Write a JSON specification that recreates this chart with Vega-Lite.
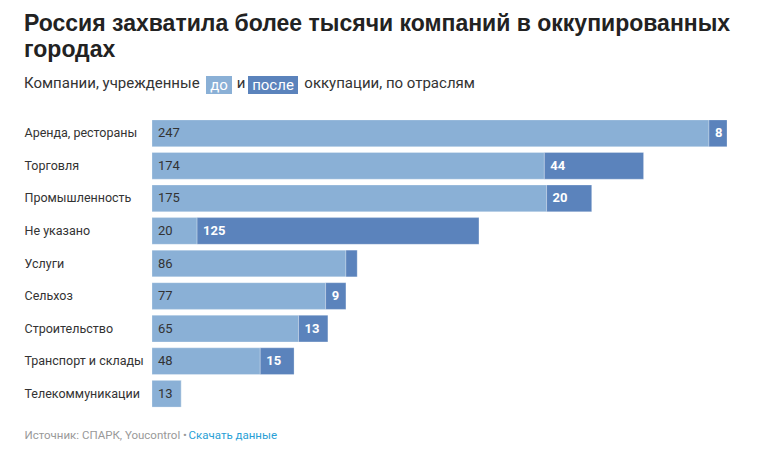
{
  "$schema": "https://vega.github.io/schema/vega-lite/v6.json",
  "width": 764,
  "height": 451,
  "autosize": {"type": "fit", "contains": "padding"},
  "padding": {"left": 24, "right": 36, "top": 13, "bottom": 10},
  "background": "white",
  "title": {
    "text": ["Россия захватила более тысячи компаний в оккупированных", "городах"],
    "subtitle": "Компании, учрежденные\u00a0\u00a0\u00a0\u00a0\u00a0\u00a0\u00a0\u00a0\u00a0\u00a0и\u00a0\u00a0\u00a0\u00a0\u00a0\u00a0\u00a0\u00a0\u00a0\u00a0\u00a0\u00a0\u00a0\u00a0\u00a0\u2009оккупации, по отраслям",
    "anchor": "start",
    "frame": "bounds",
    "font": "Liberation Sans",
    "fontSize": 23,
    "fontWeight": "bold",
    "color": "#222222",
    "lineHeight": 26,
    "subtitleFont": "Roboto",
    "subtitleFontSize": 15,
    "subtitleColor": "#333333",
    "subtitlePadding": 14,
    "offset": 26
  },
  "data": {
    "values": [
      {"cat": "Аренда, рестораны", "before": 247, "after": 8, "total": 255, "afterLabel": "8"},
      {"cat": "Торговля", "before": 174, "after": 44, "total": 218, "afterLabel": "44"},
      {"cat": "Промышленность", "before": 175, "after": 20, "total": 195, "afterLabel": "20"},
      {"cat": "Не указано", "before": 20, "after": 125, "total": 145, "afterLabel": "125"},
      {"cat": "Услуги", "before": 86, "after": 5, "total": 91, "afterLabel": null},
      {"cat": "Сельхоз", "before": 77, "after": 9, "total": 86, "afterLabel": "9"},
      {"cat": "Строительство", "before": 65, "after": 13, "total": 78, "afterLabel": "13"},
      {"cat": "Транспорт и склады", "before": 48, "after": 15, "total": 63, "afterLabel": "15"},
      {"cat": "Телекоммуникации", "before": 13, "after": 0, "total": 13, "afterLabel": null}
    ]
  },
  "encoding": {
    "y": {
      "field": "cat",
      "type": "nominal",
      "sort": null,
      "title": null,
      "scale": {"paddingInner": 0.18, "paddingOuter": 0.09},
      "axis": {
        "labelAlign": "left",
        "labelPadding": 128,
        "ticks": false,
        "domain": false,
        "labelFontSize": 12.5,
        "labelColor": "#333333",
        "labelFont": "Roboto",
        "labelLimit": 200
      }
    }
  },
  "layer": [
    {
      "mark": {"type": "bar", "stroke": "white", "strokeWidth": 1, "strokeOpacity": 0.25},
      "encoding": {
        "x": {
          "field": "before",
          "type": "quantitative",
          "scale": {"domain": [0, 255], "nice": false},
          "axis": {
            "orient": "bottom",
            "domain": false,
            "ticks": false,
            "labels": false,
            "grid": false,
            "title": "Источник: СПАРК, Youcontrol •",
            "titleAnchor": "start",
            "titleAlign": "left",
            "titleX": -128,
            "titleFontSize": 11.5,
            "titleFontWeight": "normal",
            "titleColor": "#999999",
            "titleFont": "Roboto",
            "titlePadding": 19.5
          }
        },
        "color": {
          "datum": "до",
          "scale": {"range": ["#8ab0d6"]},
          "legend": {
            "orient": "none",
            "legendX": 54,
            "legendY": -45,
            "title": null,
            "symbolType": "M-1,-0.692H1V0.692H-1Z",
            "symbolSize": 676,
            "symbolStrokeWidth": 0,
            "symbolOpacity": 1,
            "labelColor": "white",
            "labelFontSize": 15,
            "labelFont": "Roboto",
            "labelAlign": "center",
            "labelOffset": -13,
            "padding": 0
          }
        }
      }
    },
    {
      "mark": {"type": "bar", "stroke": "white", "strokeWidth": 1, "strokeOpacity": 0.25},
      "encoding": {
        "x": {
          "field": "before",
          "type": "quantitative",
          "axis": {
            "orient": "bottom",
            "domain": false,
            "ticks": false,
            "labels": false,
            "grid": false,
            "title": "Скачать данные",
            "titleAnchor": "start",
            "titleAlign": "left",
            "titleX": 36,
            "titleFontSize": 11.5,
            "titleFontWeight": "normal",
            "titleColor": "#2a9fd6",
            "titleFont": "Roboto",
            "titlePadding": 19.5
          }
        },
        "x2": {"field": "total"},
        "color": {
          "datum": "после",
          "scale": {"range": ["#5b83bc"]},
          "legend": {
            "orient": "none",
            "legendX": 96,
            "legendY": -57,
            "title": null,
            "symbolType": "M-1,-0.36H1V0.36H-1Z",
            "symbolSize": 2500,
            "symbolStrokeWidth": 0,
            "symbolOpacity": 1,
            "labelColor": "white",
            "labelFontSize": 15,
            "labelFont": "Roboto",
            "labelAlign": "center",
            "labelOffset": -25,
            "padding": 0
          }
        }
      }
    },
    {
      "mark": {"type": "text", "align": "left", "baseline": "middle", "dx": 6, "fontSize": 13, "font": "Roboto", "color": "#333333"},
      "encoding": {
        "x": {"datum": 0, "type": "quantitative", "axis": null},
        "text": {"field": "before", "type": "quantitative"}
      }
    },
    {
      "transform": [{"filter": "isValid(datum.afterLabel)"}],
      "mark": {"type": "text", "align": "left", "baseline": "middle", "dx": 6, "fontSize": 13, "font": "Roboto", "fontWeight": "bold", "color": "white"},
      "encoding": {
        "x": {"field": "before", "type": "quantitative", "axis": null},
        "text": {"field": "afterLabel", "type": "nominal"}
      }
    }
  ],
  "resolve": {"scale": {"color": "independent"}, "axis": {"x": "independent"}},
  "config": {"view": {"stroke": null}, "font": "Roboto"}
}
